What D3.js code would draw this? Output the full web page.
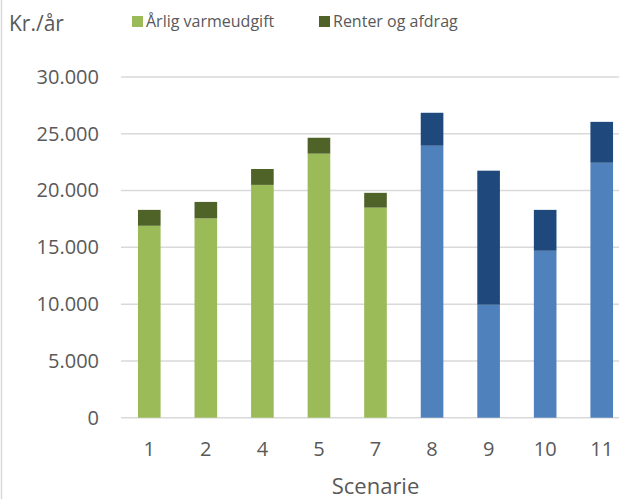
<!DOCTYPE html>
<html>
<head>
<meta charset="utf-8">
<script src="https://cdn.jsdelivr.net/npm/d3@7"></script>
<style>
  body { margin: 0; background: #fff; }
  text { font-family: "Open Sans", "Liberation Sans", sans-serif; fill: #595959; }
</style>
</head>
<body>
<div id="chart"></div>
<script>
// scenarios on the x axis
var scenarios = ["1", "2", "4", "5", "7", "8", "9", "10", "11"];
// yearly heating cost (lower part)
var varmeudgift = [16900, 17550, 20500, 23250, 18500, 23950, 9950, 14700, 22450];
// interest and repayment (upper part)
var renter = [1400, 1450, 1400, 1400, 1300, 2900, 11800, 3600, 3600];
// which scenarios are drawn in blue
var blueGroup = ["8", "9", "10", "11"];
var yTicks = [0, 5000, 10000, 15000, 20000, 25000, 30000];
var seriesNames = ["Årlig varmeudgift", "Renter og afdrag"];

var W = 619, H = 499;
var margin = {top: 77, left: 121, bottom: 81};

var svg = d3.select("#chart").append("svg")
    .attr("width", W)
    .attr("height", H);

// chart border on the left
svg.append("line")
    .attr("x1", 1.5).attr("x2", 1.5)
    .attr("y1", 0).attr("y2", H)
    .attr("stroke", "#d9d9d9").attr("stroke-width", 1.5);

var x = d3.scaleBand()
    .domain(scenarios)
    .range([margin.left, 630])
    .paddingInner(0.6)
    .paddingOuter(0.3);

var y = d3.scaleLinear()
    .domain([0, 30000])
    .range([417.7, margin.top]);

// gridlines
svg.append("g")
    .selectAll("line")
    .data(yTicks)
    .enter().append("line")
    .attr("x1", margin.left).attr("x2", W)
    .attr("y1", function(d) { return y(d); })
    .attr("y2", function(d) { return y(d); })
    .attr("stroke", "#d9d9d9")
    .attr("stroke-width", 1.5);

// y axis labels
var fmt = function(d) { return d3.format(",")(d).replace(/,/g, "."); };
var ya = d3.axisLeft(y).tickValues(yTicks).tickFormat(fmt).tickSize(0).tickPadding(0);
var gy = svg.append("g")
    .attr("transform", "translate(99,0)")
    .call(ya);
gy.select(".domain").remove();
gy.selectAll("text")
    .style("font-size", "20px")
    .style("font-family", "'Open Sans', sans-serif")
    .attr("fill", "#595959");

// x axis labels
var xa = d3.axisBottom(x).tickSize(0).tickPadding(0);
var gx = svg.append("g")
    .attr("transform", "translate(0,442)")
    .call(xa);
gx.select(".domain").remove();
gx.selectAll("text")
    .style("font-size", "20px")
    .style("font-family", "'Open Sans', sans-serif")
    .attr("fill", "#595959");

// bars
var rows = scenarios.map(function(s, i) {
  return {s: s, base: varmeudgift[i], top: renter[i], blue: blueGroup.indexOf(s) >= 0};
});

var bars = svg.append("g");
bars.selectAll(".base")
    .data(rows)
    .enter().append("rect")
    .attr("class", "base")
    .attr("x", function(d) { return x(d.s); })
    .attr("width", x.bandwidth())
    .attr("y", function(d) { return y(d.base); })
    .attr("height", function(d) { return y(0) - y(d.base); })
    .attr("fill", function(d) { return d.blue ? "#4f81bd" : "#9bbb59"; });

bars.selectAll(".top")
    .data(rows)
    .enter().append("rect")
    .attr("class", "top")
    .attr("x", function(d) { return x(d.s); })
    .attr("width", x.bandwidth())
    .attr("y", function(d) { return y(d.base + d.top); })
    .attr("height", function(d) { return y(d.base) - y(d.base + d.top); })
    .attr("fill", function(d) { return d.blue ? "#1f497d" : "#4f6228"; });

// titles
svg.append("text")
    .attr("x", 9).attr("y", 31)
    .style("font-size", "21px")
    .text("Kr./år");

svg.append("text")
    .attr("x", 375.5).attr("y", 494)
    .attr("text-anchor", "middle")
    .style("font-size", "22px")
    .text("Scenarie");

// legend
var legendX = [132, 319];
var legendColors = ["#9bbb59", "#4f6228"];
var lg = svg.append("g").selectAll("g")
    .data(seriesNames)
    .enter().append("g")
    .attr("transform", function(d, i) { return "translate(" + legendX[i] + ",16)"; });
lg.append("rect")
    .attr("width", 11).attr("height", 11)
    .attr("fill", function(d, i) { return legendColors[i]; });
lg.append("text")
    .attr("x", 14).attr("y", 11)
    .style("font-size", "16px")
    .text(function(d) { return d; });
</script>
</body>
</html>
